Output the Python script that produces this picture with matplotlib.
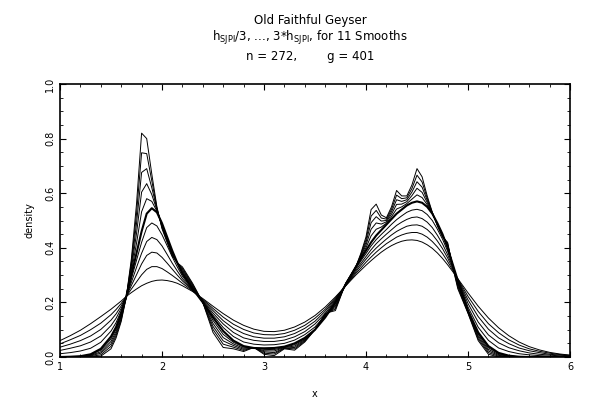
import numpy as np
import matplotlib
matplotlib.use("Agg")
import matplotlib.pyplot as plt
from matplotlib.ticker import MultipleLocator

x_grid = [1.0, 1.1, 1.2, 1.3, 1.4,
          1.5, 1.55, 1.6, 1.65, 1.7, 1.75, 1.8, 1.85, 1.9, 1.95, 2.0, 2.05, 2.1, 2.15, 2.2,
          2.3, 2.4, 2.5, 2.6, 2.7, 2.8, 2.9, 3.0, 3.1, 3.2, 3.3, 3.4, 3.5, 3.6, 3.7, 3.8,
          3.9, 3.95, 4.0, 4.05, 4.1, 4.15, 4.2, 4.25, 4.3, 4.35, 4.4, 4.45, 4.5, 4.55, 4.6,
          4.65, 4.7, 4.75, 4.8, 4.85, 4.9,
          5.0, 5.1, 5.2, 5.3, 5.4, 5.5, 5.6, 5.7, 5.8, 5.9, 6.0]

# smoothest (3*h) ... roughest (h/3)
d01 = [.060, .078, .098, .122, .148,
       .175, .190, .205, .222, .236, .249, .261, .270, .277, .281, .282, .280, .276, .270, .261,
       .240, .214, .186, .159, .135, .116, .102, .094, .093, .098, .110, .128, .152, .183, .220, .260,
       .300, .318, .336, .353, .369, .384, .397, .408, .417, .424, .428, .429, .427, .421, .411, .398, .381, .361, .338, .313, .287,
       .235, .186, .143, .107, .078, .055, .038, .026, .017, .011, .007]
d02 = [.048, .063, .079, .100, .124,
       .155, .174, .196, .222, .249, .275, .301, .321, .331, .331, .324, .312, .299, .285, .270,
       .242, .211, .178, .146, .120, .101, .088, .082, .081, .086, .098, .116, .142, .175, .216, .261,
       .306, .326, .347, .366, .384, .400, .415, .427, .439, .447, .453, .456, .456, .450, .439, .423, .403, .379, .350, .318, .286,
       .222, .167, .122, .089, .063, .044, .030, .021, .014, .009, .006]
d03 = [.036, .047, .060, .077, .101,
       .135, .158, .187, .222, .262, .301, .341, .372, .384, .381, .365, .344, .322, .300, .279,
       .244, .208, .170, .133, .105, .086, .074, .069, .069, .074, .086, .105, .131, .168, .212, .262,
       .312, .335, .358, .380, .399, .416, .432, .447, .460, .470, .479, .483, .484, .479, .467, .449, .425, .397, .363, .324, .284,
       .209, .148, .102, .070, .049, .033, .023, .016, .010, .007, .004]
d04 = [.024, .032, .041, .055, .077,
       .115, .142, .178, .222, .274, .328, .380, .423, .438, .430, .407, .376, .344, .315, .287,
       .246, .206, .161, .121, .090, .070, .061, .057, .057, .062, .074, .093, .121, .160, .208, .263,
       .318, .343, .368, .393, .415, .433, .450, .466, .482, .494, .504, .511, .513, .507, .494, .474, .446, .414, .375, .329, .283,
       .196, .128, .081, .052, .034, .023, .015, .010, .007, .004, .003]
d05 = [.012, .016, .022, .032, .054,
       .095, .126, .169, .222, .287, .354, .420, .474, .491, .480, .448, .408, .367, .330, .296,
       .248, .203, .153, .108, .075, .055, .047, .044, .045, .050, .062, .082, .110, .153, .204, .264,
       .324, .352, .379, .407, .430, .449, .467, .486, .503, .517, .530, .538, .541, .536, .522, .500, .468, .432, .388, .335, .281,
       .183, .109, .061, .033, .020, .012, .008, .005, .003, .002, .001]
d06 = [.000, .001, .003, .010, .030,
       .075, .110, .160, .222, .300, .380, .460, .525, .545, .530, .490, .440, .390, .345, .305,
       .250, .200, .145, .095, .060, .040, .033, .032, .033, .038, .050, .070, .100, .145, .200, .265,
       .330, .360, .390, .420, .445, .465, .485, .505, .525, .540, .555, .565, .570, .565, .550, .525, .490, .450, .400, .340, .280,
       .170, .090, .040, .015, .005, .001, 0, 0, 0, 0, 0]
d07 = [0, .001, .002, .008, .025,
       .066, .102, .154, .222, .312, .416, .532, .580, .570, .534, .486, .436, .386, .345, .310,
       .254, .200, .134, .083, .054, .036, .033, .028, .027, .036, .045, .067, .100, .148, .194, .266,
       .330, .364, .400, .444, .468, .476, .490, .514, .542, .550, .562, .578, .594, .584, .558, .526, .488, .448, .404, .338, .274,
       .168, .084, .034, .012, .004, .001, 0, 0, 0, 0, 0]
d08 = [0, .001, .002, .006, .019,
       .057, .094, .148, .221, .324, .452, .604, .635, .595, .538, .482, .432, .382, .345, .315,
       .258, .200, .123, .071, .048, .032, .034, .023, .022, .035, .040, .064, .100, .151, .188, .267,
       .330, .368, .410, .468, .491, .487, .495, .523, .559, .560, .569, .591, .618, .603, .566, .527, .486, .446, .408, .336, .268,
       .166, .078, .028, .009, .003, .001, 0, 0, 0, 0, 0]
d09 = [0, 0, .001, .004, .014,
       .048, .086, .142, .221, .336, .488, .676, .690, .620, .542, .478, .428, .378, .345, .320,
       .262, .200, .112, .059, .042, .028, .034, .019, .016, .033, .035, .061, .100, .154, .182, .268,
       .330, .372, .420, .492, .514, .498, .500, .532, .576, .570, .576, .604, .642, .622, .574, .528, .484, .444, .412, .334, .262,
       .164, .072, .022, .006, .002, 0, 0, 0, 0, 0, 0]
d10 = [0, 0, .001, .002, .008,
       .039, .078, .136, .220, .348, .524, .748, .745, .645, .546, .474, .424, .374, .345, .325,
       .266, .200, .101, .047, .036, .024, .035, .014, .011, .032, .030, .058, .100, .157, .176, .269,
       .330, .376, .430, .516, .537, .509, .505, .541, .593, .580, .583, .617, .666, .641, .582, .529, .482, .442, .416, .332, .256,
       .162, .066, .016, .003, .001, 0, 0, 0, 0, 0, 0]
d11 = [0, 0, 0, 0, .003,
       .030, .070, .130, .220, .360, .560, .820, .800, .670, .550, .470, .420, .370, .345, .330,
       .270, .200, .090, .035, .030, .020, .035, .010, .005, .030, .025, .055, .100, .160, .170, .270,
       .330, .380, .440, .540, .560, .520, .510, .550, .610, .590, .590, .630, .690, .660, .590, .530, .480, .440, .420, .330, .250,
       .160, .060, .010, 0, 0, 0, 0, 0, 0, 0, 0]

smooths = [d01, d02, d03, d04, d05, d06, d07, d08, d09, d10, d11]
y_ticks = [0.0, 0.2, 0.4, 0.6, 0.8, 1.0]
x_ticks = [1, 2, 3, 4, 5, 6]

fig = plt.figure(figsize=(6.03, 4.09), dpi=100)
ax = fig.add_axes([60 / 603, 52 / 409, 510 / 603, 273 / 409])

for i, d in enumerate(smooths):
    lw = 1.5 if i == 5 else 0.7
    ax.plot(x_grid, d, color="black", linewidth=lw)

ax.set_xlim(1, 6)
ax.set_ylim(0, 1)
ax.set_xticks(x_ticks)
ax.set_xticklabels([str(v) for v in x_ticks])
ax.set_yticks(y_ticks)
ax.set_yticklabels(["%.1f" % v for v in y_ticks], rotation=90, va="center")
ax.xaxis.set_minor_locator(MultipleLocator(0.2))
ax.yaxis.set_minor_locator(MultipleLocator(0.05))
ax.tick_params(which="both", direction="in", top=True, right=True, labelsize=7)
ax.tick_params(which="major", length=4)
ax.tick_params(which="minor", length=2.5)
for s in ax.spines.values():
    s.set_linewidth(1.2)
ax.set_xlabel("x", fontsize=7, labelpad=12)
ax.set_ylabel("density", fontsize=7, labelpad=8)

fig.text(0.514, 0.951, "Old Faithful Geyser", ha="center", va="center", fontsize=8.5)
fig.text(0.514, 0.907, r"h$_{\rm SJPI}$/3, ..., 3*h$_{\rm SJPI}$, for 11 Smooths",
         ha="center", va="center", fontsize=8.5)
fig.text(0.514, 0.863, "n = 272,        g = 401", ha="center", va="center", fontsize=8.5)

fig.savefig("out.png", dpi=100)
